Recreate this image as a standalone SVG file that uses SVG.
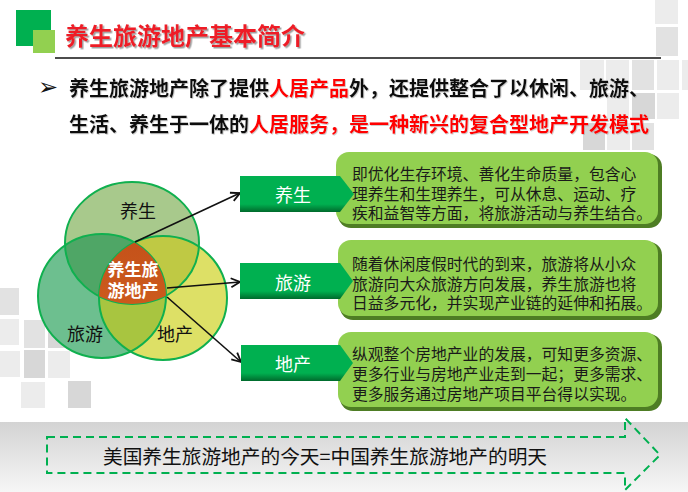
<svg xmlns="http://www.w3.org/2000/svg" width="688" height="492" viewBox="0 0 688 492">
<defs>
<style>
text{font-family:"Noto Sans CJK SC","Noto Sans",sans-serif;}
.sq1{fill:#ececec}.sq2{fill:#e2e2e2}.sq3{fill:#d7d7d7}
.title{font-size:24px;font-weight:bold;fill:#ee1c25}
.bul{font-size:20px;font-weight:bold;fill:#111}
.red{fill:#ff0000}
.vl{font-size:18px;fill:#111;text-anchor:middle}
.vc{font-size:17px;fill:#fff;font-weight:bold;text-anchor:middle}
.tagt{font-size:18px;fill:#fff;text-anchor:middle}
.desc{font-size:15.8px;fill:#1a1a1a}
.tag{fill:url(#gTag)}
.box{fill:#92d050}
.boxsh{fill:#4e7d24}
.conn{stroke:#111;stroke-width:1.6;fill:none;marker-end:url(#ah)}
.ring{fill:none;stroke:#10b04f;stroke-width:2}
</style>
<linearGradient id="gTag" x1="0" y1="0" x2="0" y2="1">
<stop offset="0" stop-color="#00b050"/><stop offset="0.78" stop-color="#00b050"/><stop offset="1" stop-color="#006a2c"/>
</linearGradient>
<linearGradient id="gBand" x1="0" y1="0" x2="0" y2="1">
<stop offset="0" stop-color="#d3d3d3"/><stop offset="1" stop-color="#f6f6f6"/>
</linearGradient>
<linearGradient id="gOr" x1="0" y1="0" x2="0" y2="1">
<stop offset="0" stop-color="#c4511a"/><stop offset="1" stop-color="#d2621e"/>
</linearGradient>
<clipPath id="cT"><ellipse cx="132" cy="243" rx="67" ry="61"/></clipPath>
<clipPath id="cL"><ellipse cx="102" cy="296" rx="64" ry="62"/></clipPath>
<clipPath id="cR"><ellipse cx="163" cy="298" rx="64" ry="62"/></clipPath>
<marker id="ah" markerUnits="userSpaceOnUse" markerWidth="12" markerHeight="12" refX="10" refY="5" orient="auto" viewBox="0 0 12 10">
<path d="M1,0.5 L10,5 L1,9.5" fill="none" stroke="#111" stroke-width="1.8"/>
</marker>
<filter id="sh" x="-5%" y="-20%" width="110%" height="140%">
<feDropShadow dx="1.5" dy="1.5" stdDeviation="0.6" flood-color="#888" flood-opacity="0.8"/>
</filter>
<filter id="sh2" x="-5%" y="-20%" width="110%" height="140%">
<feDropShadow dx="0.8" dy="0.8" stdDeviation="0.4" flood-color="#999" flood-opacity="0.6"/>
</filter>
</defs>
<rect width="688" height="492" fill="#ffffff"/>
<g id="bg-squares">
<rect class="sq1" x="655" y="0" width="23" height="24"/>
<rect class="sq2" x="656" y="27" width="22" height="29"/>
<rect class="sq1" x="580" y="60" width="24" height="30"/>
<rect class="sq1" x="606" y="60" width="23" height="30"/>
<rect class="sq2" x="632" y="60" width="22" height="30"/>
<rect class="sq1" x="657" y="60" width="22" height="30"/>
<rect class="sq1" x="682" y="60" width="6" height="30"/>
<rect class="sq1" x="607" y="93" width="22" height="26"/>
<rect class="sq3" x="632" y="93" width="23" height="26"/>
<rect class="sq1" x="657" y="93" width="22" height="26"/>
<rect class="sq3" x="583" y="123" width="22" height="27"/>
<rect class="sq1" x="607" y="123" width="23" height="27"/>
<rect class="sq2" x="632" y="123" width="22" height="27"/>
<rect class="sq2" x="0" y="288" width="19" height="27"/>
<rect class="sq1" x="0" y="319" width="19" height="26"/>
<rect class="sq2" x="24" y="320" width="21" height="28"/>
<rect class="sq3" x="48" y="320" width="22" height="28"/>
<rect class="sq1" x="0" y="351" width="20" height="26"/>
<rect class="sq3" x="24" y="350" width="21" height="28"/>
<rect class="sq1" x="48" y="351" width="22" height="27"/>
<rect class="sq1" x="21" y="382" width="24" height="26"/>
<rect class="sq3" x="68" y="381" width="23" height="27"/>
</g>
<g id="header">
<rect x="16" y="10" width="35" height="36" fill="#00b050"/>
<rect x="33" y="30" width="22" height="23" fill="#92d050"/>
<text class="title" x="65" y="34" dominant-baseline="central" filter="url(#sh)">养生旅游地产基本简介</text>
<line x1="55" y1="58" x2="661" y2="58" stroke="#111" stroke-width="1.5"/>
</g>
<g id="bullet">
<text x="38" y="87" dominant-baseline="central" style="font-family:'DejaVu Sans',sans-serif;font-size:24px;fill:#111">➢</text>
<text class="bul" x="69" y="87" dominant-baseline="central" filter="url(#sh2)">养生旅游地产除了提供<tspan class="red">人居产品</tspan>外，还提供整合了以休闲、旅游、</text>
<text class="bul" x="69" y="123" dominant-baseline="central" filter="url(#sh2)">生活、养生于一体的<tspan class="red">人居服务，是一种新兴的复合型地产开发模式</tspan></text>
</g>
<g id="venn">
<ellipse cx="132" cy="243" rx="67" ry="61" fill="#a8c98c"/>
<ellipse cx="102" cy="296" rx="64" ry="62" fill="#6dbf8f"/>
<ellipse cx="163" cy="298" rx="64" ry="62" fill="#dde066"/>
<ellipse cx="102" cy="296" rx="64" ry="62" fill="#4fa666" clip-path="url(#cT)"/>
<ellipse cx="163" cy="298" rx="64" ry="62" fill="#bfc944" clip-path="url(#cT)"/>
<ellipse cx="163" cy="298" rx="64" ry="62" fill="#a8c540" clip-path="url(#cL)"/>
<ellipse class="ring" cx="132" cy="243" rx="67" ry="61"/>
<ellipse class="ring" cx="102" cy="296" rx="64" ry="62"/>
<ellipse class="ring" cx="163" cy="298" rx="64" ry="62"/>
<g clip-path="url(#cT)"><ellipse cx="163" cy="298" rx="64" ry="62" fill="url(#gOr)" clip-path="url(#cL)"/></g>
<text class="vl" x="138" y="210" dominant-baseline="central">养生</text>
<text class="vl" x="85" y="333" dominant-baseline="central">旅游</text>
<text class="vl" x="175" y="333" dominant-baseline="central">地产</text>
<text class="vc" dominant-baseline="central"><tspan x="133" y="268">养生旅</tspan><tspan x="133" y="289">游地产</tspan></text>
</g>
<g id="connectors">
<line class="conn" x1="135" y1="242" x2="240" y2="193"/>
<line class="conn" x1="167" y1="288" x2="240" y2="282"/>
<line class="conn" x1="167" y1="297" x2="241" y2="362"/>
</g>
<g id="desc1">
<rect class="boxsh" x="338" y="154" width="324" height="74" rx="13"/>
<rect class="box" x="336" y="152" width="322" height="72" rx="13"/>
<text class="desc" dominant-baseline="central"><tspan x="352" y="173">即优化生存环境、善化生命质量，包含心</tspan><tspan x="352" y="192.5">理养生和生理养生，可从休息、运动、疗</tspan><tspan x="352" y="212">疾和益智等方面，将旅游活动与养生结合。</tspan></text>
</g>
<g id="desc2">
<rect class="boxsh" x="340" y="242" width="322" height="78" rx="13"/>
<rect class="box" x="338" y="240" width="320" height="76" rx="13"/>
<text class="desc" dominant-baseline="central"><tspan x="352" y="263">随着休闲度假时代的到来，旅游将从小众</tspan><tspan x="352" y="282.5">旅游向大众旅游方向发展，养生旅游也将</tspan><tspan x="352" y="302">日益多元化，并实现产业链的延伸和拓展。</tspan></text>
</g>
<g id="desc3">
<rect class="boxsh" x="340" y="334" width="322" height="77" rx="13"/>
<rect class="box" x="338" y="332" width="320" height="75" rx="13"/>
<text class="desc" dominant-baseline="central"><tspan x="352" y="353">纵观整个房地产业的发展，可知更多资源、</tspan><tspan x="352" y="373">更多行业与房地产业走到一起；更多需求、</tspan><tspan x="352" y="393">更多服务通过房地产项目平台得以实现。</tspan></text>
</g>
<g id="tag1">
<path class="tag" d="M240,176 L340,176 L354,194 L340,212 L240,212 Z"/>
<text class="tagt" x="293" y="194" dominant-baseline="central">养生</text>
</g>
<g id="tag2">
<path class="tag" d="M240,263 L340,263 L353,281 L340,299 L240,299 Z"/>
<text class="tagt" x="293" y="282" dominant-baseline="central">旅游</text>
</g>
<g id="tag3">
<path class="tag" d="M241,345 L340,345 L353,363 L340,381 L241,381 Z"/>
<text class="tagt" x="293" y="363" dominant-baseline="central">地产</text>
</g>
<g id="footer">
<rect x="0" y="422" width="688" height="70" fill="url(#gBand)"/>
<path d="M47,437 L625,437 L625,418 L660,455 L625,490 L625,473 L47,473 Z" fill="none" stroke="#00b050" stroke-width="2" stroke-dasharray="8 5"/>
<text x="103" y="455" dominant-baseline="central" style="font-size:19.7px;fill:#111">美国养生旅游地产的今天=中国养生旅游地产的明天</text>
</g>
</svg>
